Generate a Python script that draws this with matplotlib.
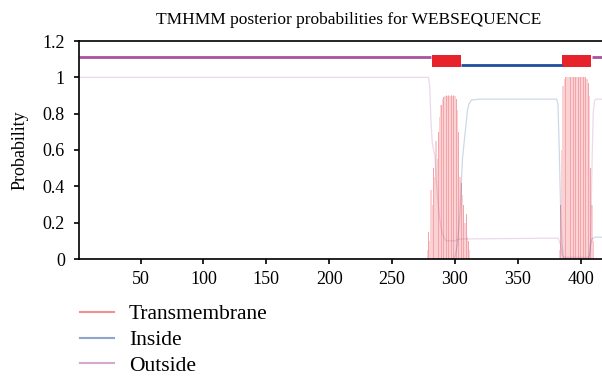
import numpy as np
import matplotlib
matplotlib.use("Agg")
import matplotlib.pyplot as plt
from matplotlib.lines import Line2D

plt.rcParams['font.family'] = ['Liberation Serif', 'DejaVu Serif']

# ---------------- data ----------------
seq_len = 417
title = "TMHMM posterior probabilities for WEBSEQUENCE"
xticks = [50, 100, 150, 200, 250, 300, 350, 400]
yticks = [0, 0.2, 0.4, 0.6, 0.8, 1.0, 1.2]
ytick_labels = ["0", "0.2", "0.4", "0.6", "0.8", "1", "1.2"]

# posterior probability curves (residue, probability)
outside_x = [1, 279, 280, 281, 282, 283, 284, 285, 286, 287, 288, 289, 290, 292, 293,
             300, 303, 382, 384, 385, 386, 407, 408, 409, 410, 411, 412, 417]
outside_y = [1.0, 1.0, 0.95, 0.75, 0.64, 0.6, 0.57, 0.45, 0.36, 0.28, 0.22, 0.17, 0.14, 0.11, 0.10,
             0.10, 0.11, 0.115, 0.08, 0.03, 0.01, 0.01, 0.1, 0.5, 0.8, 0.87, 0.88, 0.88]

inside_x = [1, 299, 300, 302, 304, 305, 306, 307, 309, 310, 311, 313, 320, 381, 382, 383,
            384, 385, 386, 387, 406, 407, 408, 409, 411, 417]
inside_y = [0.0, 0.0, 0.01, 0.08, 0.25, 0.4, 0.55, 0.62, 0.75, 0.82, 0.85, 0.875, 0.88, 0.88,
            0.85, 0.6, 0.3, 0.1, 0.02, 0.0, 0.0, 0.02, 0.08, 0.11, 0.12, 0.12]

# transmembrane posterior per residue (two helices)
tm1_pos = list(range(278, 313))
tm1_val = [0.05, 0.15, 0.10, 0.38, 0.30, 0.50, 0.45, 0.65, 0.55, 0.70, 0.78, 0.85, 0.88, 0.89,
           0.90, 0.90, 0.90, 0.90, 0.90, 0.90, 0.90, 0.90, 0.90, 0.88, 0.82, 0.70, 0.45, 0.42,
           0.35, 0.30, 0.20, 0.25, 0.12, 0.10, 0.05]
tm2_pos = list(range(383, 411))
tm2_val = [0.05, 0.30, 0.60, 0.95, 0.99, 1.0, 1.0, 1.0, 1.0, 1.0, 1.0, 1.0, 1.0, 1.0, 1.0, 1.0,
           1.0, 1.0, 1.0, 1.0, 1.0, 1.0, 0.99, 0.97, 0.90, 0.50, 0.30, 0.10]

# predicted topology segments (start, end)
outside_segs = [(1, 281), (409, 417)]
inside_segs = [(305, 385)]
tm_segs = [(281.5, 305), (385.5, 408)]

# ---------------- styles ----------------
c_tm = '#e8222a'
c_in = '#1f4e9f'
c_out = '#a9529f'

fig = plt.figure(figsize=(6.02, 3.77), dpi=100)
ax = fig.add_axes([79/602, 1-259/377, 1-79/602, 218/377])

# TM posterior: pale base fill plus darker stripes
for pos, val in [(tm1_pos, tm1_val), (tm2_pos, tm2_val)]:
    ax.fill_between(pos, val, step='mid', color=c_tm, alpha=0.2, linewidth=0)
    ax.bar(pos[1::2], val[1::2], width=0.7, color=c_tm, alpha=0.25, linewidth=0)

ax.plot(outside_x, outside_y, color=c_out, alpha=0.22, lw=0.9)
ax.plot(inside_x, inside_y, color=c_in, alpha=0.22, lw=0.9)

# topology bars at top
for s, e in outside_segs:
    ax.plot([s, e], [1.11, 1.11], color=c_out, lw=2.0, solid_capstyle='butt')
for s, e in inside_segs:
    ax.plot([s, e], [1.068, 1.068], color=c_in, lw=2.0, solid_capstyle='butt')
for s, e in tm_segs:
    ax.fill_between([s, e], [1.058, 1.058], [1.122, 1.122], color=c_tm, linewidth=0)

ax.set_xlim(1, seq_len)
ax.set_ylim(0, 1.2)
ax.set_xticks(xticks)
ax.set_yticks(yticks)
ax.set_yticklabels(ytick_labels)
ax.tick_params(labelsize=13, length=3.6, width=1.2, direction='out')
ax.tick_params(axis='x', pad=4.8)
ax.tick_params(axis='y', pad=6.5)
for sp in ['left', 'bottom', 'top']:
    ax.spines[sp].set_linewidth(1.2)
ax.spines['right'].set_visible(False)
ax.set_ylabel("Probability", fontsize=13, labelpad=10)
ax.set_title(title, fontsize=12.5, pad=12, x=0.515)

handles = [Line2D([], [], color=c_tm, alpha=0.5, lw=1.5),
           Line2D([], [], color=c_in, alpha=0.5, lw=1.5),
           Line2D([], [], color=c_out, alpha=0.5, lw=1.5)]
fig.legend(handles, ["Transmembrane", "Inside", "Outside"], loc='upper left',
           bbox_to_anchor=(0.118, 0.216), frameon=False, fontsize=15.5,
           handlelength=1.58, handletextpad=0.7, labelspacing=0.27, borderaxespad=0)

fig.savefig("out.png", dpi=100)
